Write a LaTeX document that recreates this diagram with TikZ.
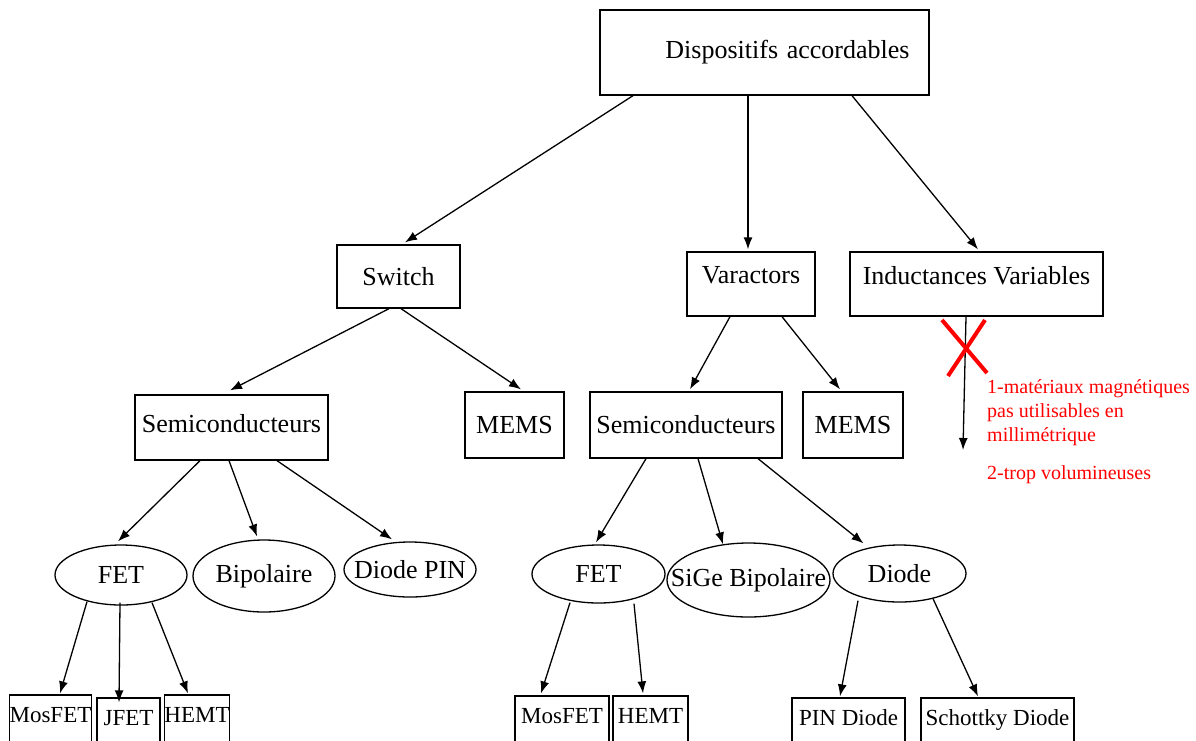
\documentclass[tikz,border=0pt]{standalone}
\usepackage{fontspec}
\setmainfont{Liberation Serif}
\usetikzlibrary{shapes.geometric,arrows.meta,calc}
\begin{document}
\begin{tikzpicture}[x=1pt,y=-1pt]
		\tikzstyle{box}=[rectangle,draw=black,line width=1.3pt,inner sep=0pt,font=\fontsize{26}{30}\selectfont]
		\tikzstyle{ell}=[ellipse,draw=black,line width=1.3pt,inner xsep=-25pt,inner ysep=-10pt,font=\fontsize{26}{30}\selectfont]
		\tikzstyle{leaf}=[box,minimum height=50pt,text depth=11pt,font=\fontsize{23}{27}\selectfont]
		\tikzstyle{arr}=[-{Latex[length=12pt,width=9pt]},line width=1.3pt]
		\tikzstyle{note}=[anchor=north west,inner sep=0pt,align=left,text=red,font=\fontsize{20}{24}\selectfont]
		\useasboundingbox (0,0) rectangle (1196,740);
		\clip (0,0) rectangle (1196,740);

		\node[box,minimum width=329pt,minimum height=85pt,text width=290pt,inner xsep=19.5pt,align=right] (top) at (764.5,52.5) {Dispositifs accordables};
		\node[box,minimum width=123pt,minimum height=63pt] (switch) at (398.5,276.5) {Switch};
		\node[box,minimum width=128pt,minimum height=64pt,text depth=18pt] (varac) at (751,284) {Varactors};
		\node[box,minimum width=253pt,minimum height=64pt,text depth=18pt] (induc) at (976.5,284) {Inductances Variables};
		\node[box,minimum width=193pt,minimum height=65pt,text depth=9pt] (semiA) at (231.5,427.5) {Semiconducteurs};
		\node[box,minimum width=99pt,minimum height=66pt] (memsA) at (514.5,425) {MEMS};
		\node[box,minimum width=192pt,minimum height=66pt] (semiB) at (686,425) {Semiconducteurs};
		\node[box,minimum width=100pt,minimum height=66pt] (memsB) at (853,425) {MEMS};
		\node[ell,minimum width=132pt,minimum height=60pt] (fetA) at (121,575) {FET};
		\node[ell,minimum width=142pt,minimum height=72pt] (bipA) at (264,576) {Bipolaire};
		\node[ell,minimum width=132pt,minimum height=55pt] (pinA) at (410,569.5) {Diode PIN};
		\node[ell,minimum width=133pt,minimum height=58pt] (fetB) at (598.5,574) {FET};
		\node[ell,minimum width=163pt,minimum height=74pt] (sige) at (748.5,580) {SiGe Bipolaire};
		\node[ell,minimum width=133pt,minimum height=57pt] (diode) at (899.5,573.5) {Diode};
		\node[leaf,minimum width=81pt] (mosA) at (50.5,720) {MosFET};
		\node[leaf,minimum width=63pt] (jfet) at (128.5,723) {JFET};
		\node[leaf,minimum width=64pt] (hemtA) at (197,720) {HEMT};
		\node[leaf,minimum width=94pt] (mosB) at (562,721) {MosFET};
		\node[leaf,minimum width=75pt] (hemtB) at (650.5,721) {HEMT};
		\node[leaf,minimum width=113pt] (pinD) at (848.5,723) {PIN Diode};
		\node[leaf,minimum width=153pt] (schot) at (997.5,723) {Schottky Diode};
		\coordinate (indend) at (963,450);

		\path[arr]
		($(top.south)+(-131.5,0)$) edge ($(switch.north)+(6.5,-2)$)
		($(top.south)+(-16.5,0)$) edge ($(varac.north)+(-3,-2)$)
		($(top.south)+(87.5,0)$) edge ($(induc.north)+(1.5,-2)$)
		($(switch.south)+(-9.5,0)$) edge ($(semiA.north)+(-1.5,-4)$)
		($(switch.south)+(2.5,0)$) edge ($(memsA.north)+(6.5,-2)$)
		($(varac.south)+(-21,0)$) edge ($(semiB.north)+(4,-2)$)
		($(varac.south)+(31,0)$) edge ($(memsB.north)+(-13,-2)$)
		($(induc.south)+(-10.5,0)$) edge (indend)
		($(semiA.south)+(-31.5,0)$) edge ($(fetA.north)+(-3,-3)$)
		($(semiA.south)+(-2.5,0)$) edge ($(bipA.north)+(-7,-3)$)
		($(semiA.south)+(45.5,0)$) edge ($(pinA.north)+(-18,-2)$)
		($(semiB.south)+(-40,0)$) edge ($(fetB.north)+(-2.5,-2)$)
		($(semiB.south)+(12,0)$) edge ($(sige.north)+(-25.5,2)$)
		($(semiB.south)+(72,0)$) edge ($(diode.north)+(-36,-1)$)
		($(fetA.south)+(-34,-4)$) edge ($(mosA.north)+(9.5,-1)$)
		($(fetA.south)+(-1,-3)$) edge ($(jfet.north)+(-9.5,5)$)
		($(fetA.south)+(31,-3)$) edge ($(hemtA.north)+(-9,-1)$)
		($(fetB.south)+(-28.5,-1)$) edge ($(mosB.north)+(-21,-2)$)
		($(fetB.south)+(35.5,0)$) edge ($(hemtB.north)+(-7.5,-2)$)
		($(diode.south)+(-41.5,-2)$) edge ($(pinD.north)+(-8.5,-1)$)
		($(diode.south)+(33.5,-4)$) edge ($(schot.north)+(-19.5,-1)$)
		;

		\draw[red,line width=4pt] (942,320) -- (987,373) (985,320) -- (948,376);
		\node[note] (why1) at (987,379) {1-matériaux magnétiques\\pas utilisables en\\millimétrique};
		\node[note] (why2) at (987,465) {2-trop volumineuses};
\end{tikzpicture}
\end{document}
